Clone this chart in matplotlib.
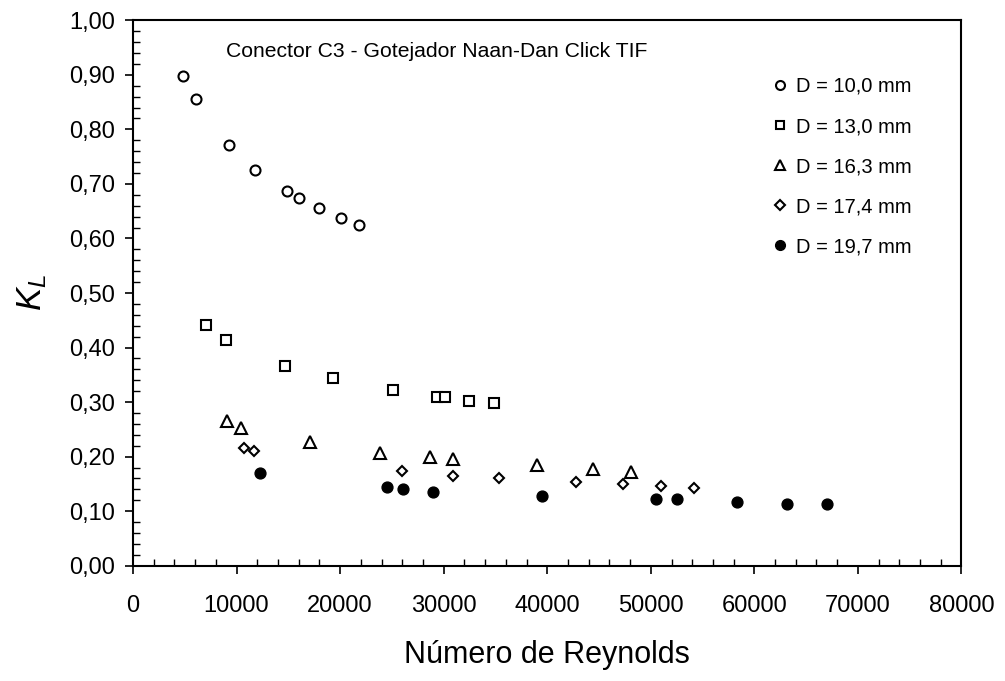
import matplotlib.pyplot as plt
from matplotlib.ticker import MultipleLocator, FuncFormatter

plt.rcParams['font.family'] = ['Liberation Sans', 'DejaVu Sans']
plt.rcParams['mathtext.fontset'] = 'custom'
plt.rcParams['mathtext.it'] = 'Liberation Sans:italic'
plt.rcParams['mathtext.rm'] = 'Liberation Sans'

# Datos (Re, KL)
re_10 = [4860, 6050, 9300, 11815, 14870, 16060, 17960, 20055, 21790]
kl_10 = [0.898, 0.856, 0.772, 0.725, 0.687, 0.675, 0.656, 0.637, 0.625]

re_13 = [7020, 8950, 14710, 19290, 25100, 29320, 30100, 32410, 34890]
kl_13 = [0.441, 0.414, 0.367, 0.344, 0.322, 0.309, 0.309, 0.302, 0.298]

re_163 = [9050, 10400, 17120, 23850, 28650, 30930, 39000, 44420, 48060]
kl_163 = [0.265, 0.253, 0.226, 0.207, 0.199, 0.195, 0.184, 0.177, 0.172]

re_174 = [10750, 11680, 25940, 30930, 35340, 42800, 47320, 50960, 54200]
kl_174 = [0.215, 0.211, 0.174, 0.165, 0.161, 0.154, 0.150, 0.146, 0.1425]

re_197 = [12230, 24500, 26040, 28940, 39520, 50470, 52560, 58350, 63180, 67020]
kl_197 = [0.1705, 0.144, 0.141, 0.136, 0.128, 0.122, 0.122, 0.117, 0.113, 0.113]

etiquetas = ['D = 10,0 mm', 'D = 13,0 mm', 'D = 16,3 mm', 'D = 17,4 mm', 'D = 19,7 mm']

fig = plt.figure(figsize=(10.05, 6.81), dpi=100)
ax = fig.add_axes([0.1323, 0.1693, 0.8244, 0.8009])

ax.plot(re_10, kl_10, 'o', ms=7.2, mfc='white', mec='black', mew=1.5, label=etiquetas[0])
ax.plot(re_13, kl_13, 's', ms=7.0, mfc='white', mec='black', mew=1.5, label=etiquetas[1])
ax.plot(re_163, kl_163, '^', ms=8.5, mfc='white', mec='black', mew=1.5, label=etiquetas[2])
ax.plot(re_174, kl_174, 'D', ms=5.3, mfc='white', mec='black', mew=1.5, label=etiquetas[3])
ax.plot(re_197, kl_197, 'o', ms=7.8, mfc='black', mec='black', mew=1.0, label=etiquetas[4])

ax.set_xlim(0, 80000)
ax.set_ylim(0, 1.0)
ax.xaxis.set_major_locator(MultipleLocator(10000))
ax.xaxis.set_minor_locator(MultipleLocator(2000))
ax.yaxis.set_major_locator(MultipleLocator(0.1))
ax.yaxis.set_minor_locator(MultipleLocator(0.02))
ax.yaxis.set_major_formatter(FuncFormatter(lambda v, p: f'{v:.2f}'.replace('.', ',')))
ax.xaxis.set_major_formatter(FuncFormatter(lambda v, p: f'{v:.0f}'))

for s in ax.spines.values():
    s.set_linewidth(1.5)
ax.tick_params(which='major', direction='out', length=6, width=1.2, labelsize=17)
ax.tick_params(axis='y', which='major', pad=7)
ax.tick_params(axis='x', which='major', pad=15)
ax.tick_params(which='minor', direction='in', length=5, width=1.0)

ax.set_xlabel('Número de Reynolds', fontsize=22, labelpad=17)
ax.set_ylabel('$K_L$', fontsize=25, labelpad=14)

ax.text(0.112, 0.9424, 'Conector C3 - Gotejador Naan-Dan Click TIF', transform=ax.transAxes,
        fontsize=15.2, va='center', ha='left')

ax.legend(loc='upper left', bbox_to_anchor=(0.764, 0.911), frameon=False, fontsize=14.5,
          handlelength=0.6, handletextpad=0.5, labelspacing=1.05, markerscale=0.9,
          borderaxespad=0)

plt.savefig('out.png', dpi=100)
